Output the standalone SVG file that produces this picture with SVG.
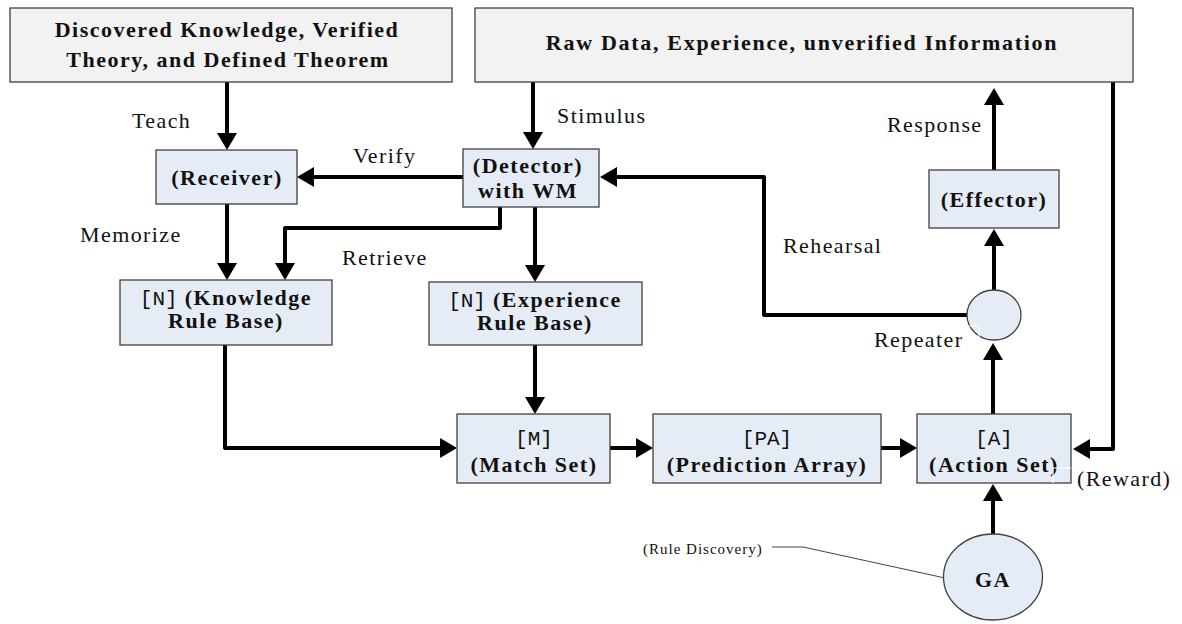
<svg xmlns="http://www.w3.org/2000/svg" width="1182" height="624" viewBox="0 0 1182 624">
  <style>
    .src { fill: #f2f2f2; stroke: #404040; stroke-width: 1.3; }
    .box { fill: #e6ecf6; stroke: #404040; stroke-width: 1.3; }
    .bold { font-family: "Liberation Serif", "Times New Roman", serif; font-weight: bold; font-size: 22px; letter-spacing: 1.5px; fill: #111; text-anchor: middle; }
    .wide { letter-spacing: 1.7px; }
    .tag { font-family: "Liberation Mono", "Courier New", monospace; font-weight: normal; font-size: 21px; letter-spacing: 0; }
    .lbl { font-family: "Liberation Serif", "Times New Roman", serif; font-size: 22px; letter-spacing: 1.4px; fill: #111; }
    .small { font-family: "Liberation Serif", "Times New Roman", serif; font-size: 15px; letter-spacing: 1px; fill: #111; }
    .conn { fill: none; stroke: #000; stroke-width: 4; stroke-linejoin: round; marker-end: url(#arrow); }
    .artifact { fill: none; stroke: #ffffff; stroke-width: 1.2; }
  </style>
  <defs>
    <marker id="arrow" markerUnits="userSpaceOnUse" markerWidth="17" markerHeight="20" refX="5" refY="10" orient="auto">
      <path d="M0,0 L17,10 L0,20 Z" fill="#000"/>
    </marker>
  </defs>

  <rect width="1182" height="624" fill="#ffffff"/>

  <!-- connectors -->
  <g id="connectors">
    <path class="conn" d="M227,82 V138"/>
    <path class="conn" d="M533,82 V137"/>
    <path class="conn" d="M463,177 H309"/>
    <path class="conn" d="M227,204 V268"/>
    <path class="conn" d="M500,207 V228 H285 V268"/>
    <path class="conn" d="M535,207 V270"/>
    <path class="conn" d="M535,345 V402"/>
    <path class="conn" d="M225,345 V448 H445"/>
    <path class="conn" d="M610,448 H641"/>
    <path class="conn" d="M881,448 H905"/>
    <path class="conn" d="M1113,82 V449 H1085"/>
    <path class="conn" d="M993,414 V355"/>
    <path class="conn" d="M994,291 V241"/>
    <path class="conn" d="M994,170 V100"/>
    <path class="conn" d="M967,315 H764 V177 H612"/>
    <path class="conn" d="M993,534 V496"/>
    <!-- callout for the GA label -->
    <path d="M772,547 H803 L945,578" fill="none" stroke="#444" stroke-width="1"/>
  </g>

  <!-- connector labels -->
  <g id="labels">
    <text class="lbl" x="132" y="128">Teach</text>
    <text class="lbl" x="557" y="123">Stimulus</text>
    <text class="lbl" x="353" y="163">Verify</text>
    <text class="lbl" x="80" y="242">Memorize</text>
    <text class="lbl" x="342" y="265">Retrieve</text>
    <text class="lbl" x="887" y="132">Response</text>
    <text class="lbl" x="783" y="253">Rehearsal</text>
    <text class="lbl" x="874" y="347">Repeater</text>
    <text class="lbl" x="1077" y="486">(Reward)</text>
    <text class="small" x="643" y="554">(Rule Discovery)</text>
  </g>

  <g id="knowledge-source">
    <rect class="src" x="10" y="8" width="442" height="74"/>
    <text class="bold" x="227" y="37">Discovered Knowledge, Verified</text>
    <text class="bold" x="228" y="67">Theory, and Defined Theorem</text>
  </g>

  <g id="raw-source">
    <rect class="src" x="475" y="8" width="658" height="74"/>
    <text class="bold wide" x="802" y="50">Raw Data, Experience, unverified Information</text>
  </g>

  <g id="receiver">
    <rect class="box" x="156" y="150" width="141" height="54"/>
    <text class="bold" x="227" y="185">(Receiver)</text>
  </g>

  <g id="detector">
    <rect class="box" x="463" y="149" width="136" height="58"/>
    <text class="bold" x="528" y="173">(Detector)</text>
    <text class="bold" x="528" y="198">with WM</text>
  </g>

  <g id="knowledge-rule-base">
    <rect class="box" x="120" y="280" width="212" height="65"/>
    <text class="bold" x="226" y="305"><tspan class="tag">[N]</tspan> (Knowledge</text>
    <text class="bold" x="226" y="328">Rule Base)</text>
  </g>

  <g id="experience-rule-base">
    <rect class="box" x="429" y="282" width="213" height="63"/>
    <text class="bold" x="535" y="307"><tspan class="tag">[N]</tspan> (Experience</text>
    <text class="bold" x="535" y="330">Rule Base)</text>
  </g>

  <g id="match-set">
    <rect class="box" x="457" y="414" width="153" height="69"/>
    <text class="bold tag" x="534" y="445">[M]</text>
    <text class="bold" x="534" y="472">(Match Set)</text>
  </g>

  <g id="prediction-array">
    <rect class="box" x="653" y="414" width="228" height="69"/>
    <text class="bold tag" x="767" y="445">[PA]</text>
    <text class="bold" x="767" y="472">(Prediction Array)</text>
  </g>

  <g id="action-set">
    <rect class="box" x="917" y="414" width="154" height="69"/>
    <text class="bold tag" x="994" y="445">[A]</text>
    <text class="bold" x="994" y="472">(Action Set)</text>
    <path class="artifact" d="M1053,483 V468 H1071"/>
  </g>

  <g id="effector">
    <rect class="box" x="929" y="170" width="130" height="58"/>
    <text class="bold" x="994" y="207">(Effector)</text>
  </g>

  <g id="repeater">
    <ellipse class="box" cx="994" cy="315" rx="27" ry="25"/>
    <path class="artifact" d="M969,326 H979 V341"/>
  </g>

  <g id="ga">
    <ellipse class="box" cx="993" cy="577" rx="49.5" ry="43"/>
    <text class="bold" x="993" y="587">GA</text>
  </g>
</svg>
